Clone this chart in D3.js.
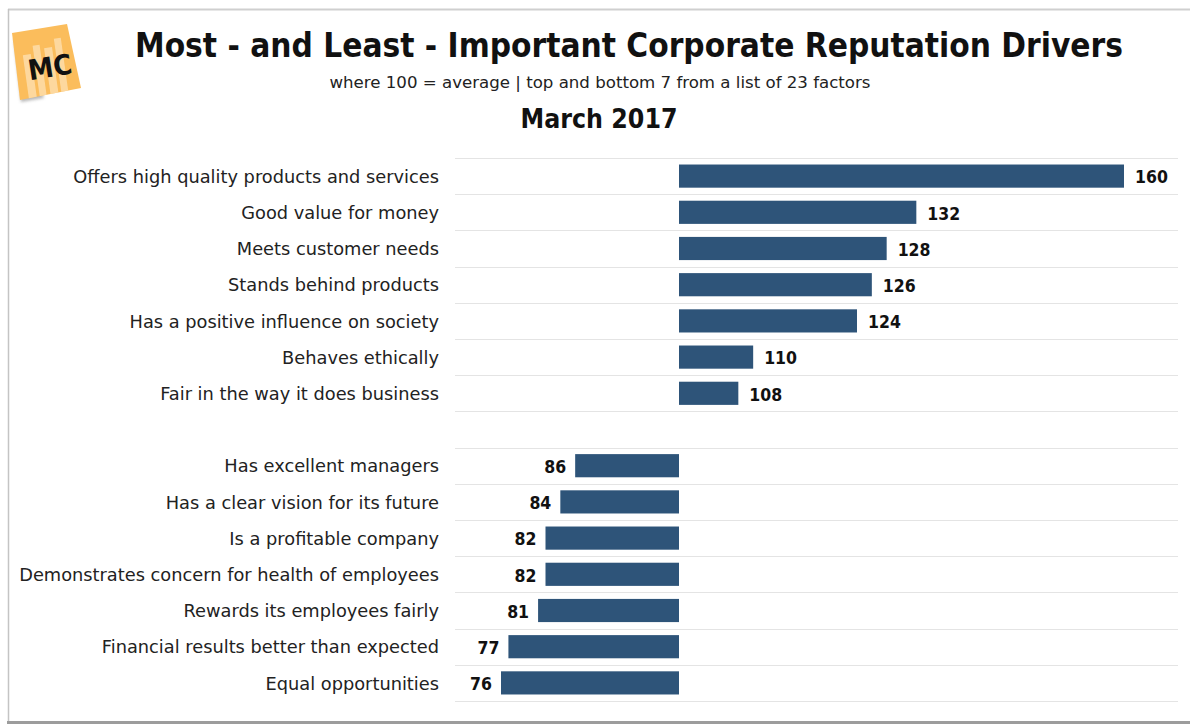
<!DOCTYPE html>
<html>
<head>
<meta charset="utf-8">
<script src="https://cdn.jsdelivr.net/npm/d3@7"></script>
<style>
  html, body { margin: 0; padding: 0; background: #fff; }
  svg { display: block; }
</style>
</head>
<body>
<svg id="chart" width="1190" height="727"></svg>
<script>
// Top drivers (index above 100 = average)
const topFactors = [
  "Offers high quality products and services",
  "Good value for money",
  "Meets customer needs",
  "Stands behind products",
  "Has a positive influence on society",
  "Behaves ethically",
  "Fair in the way it does business"
];
const topValues = [160, 132, 128, 126, 124, 110, 108];

// Bottom drivers (index below 100)
const bottomFactors = [
  "Has excellent managers",
  "Has a clear vision for its future",
  "Is a profitable company",
  "Demonstrates concern for health of employees",
  "Rewards its employees fairly",
  "Financial results better than expected",
  "Equal opportunities"
];
const bottomValues = [86, 84, 82, 82, 81, 77, 76];

const baselineValue = 100;
const titleText = "Most - and Least - Important Corporate Reputation Drivers";
const subtitleText = "where 100 = average | top and bottom 7 from a list of 23 factors";
const periodText = "March 2017";

// Rows: top group, an empty spacer slot, bottom group
const rows = [
  ...topFactors.map((c, i) => ({ key: "t" + i, label: c, value: topValues[i] })),
  { key: "gap", label: "", value: null },
  ...bottomFactors.map((c, i) => ({ key: "b" + i, label: c, value: bottomValues[i] }))
];

const svg = d3.select("#chart");
const BAR = "#2e5479";

// Frame
svg.append("line").attr("x1", 8).attr("x2", 1190).attr("y1", 9.5).attr("y2", 9.5)
  .attr("stroke", "#cfcfcf").attr("stroke-width", 2);
svg.append("line").attr("x1", 8.5).attr("x2", 8.5).attr("y1", 9).attr("y2", 722)
  .attr("stroke", "#c4c4c4").attr("stroke-width", 1.5);
svg.append("line").attr("x1", 7).attr("x2", 1190).attr("y1", 722.5).attr("y2", 722.5)
  .attr("stroke", "#9c9c9c").attr("stroke-width", 3);

// Logo: sticky note with "MC"
const defs = svg.append("defs");
defs.append("filter").attr("id", "soft").append("feGaussianBlur").attr("stdDeviation", 1.6);
const notePath = "M12,33 L67,24 L81,88 L20,100 Z";
const logo = svg.append("g").attr("class", "logo");
logo.append("path")
  .attr("d", "M14,40 L21,102 L44,98 L30,62 Z")
  .attr("fill", "#9a9a9a").attr("opacity", 0.7).attr("filter", "url(#soft)");
logo.append("path").attr("d", notePath).attr("fill", "#fbbd5c");
defs.append("clipPath").attr("id", "noteClip").append("path").attr("d", notePath);
const stripes = logo.append("g").attr("clip-path", "url(#noteClip)");
[[24, 52, 8], [35, 44, 7], [46, 48, 8], [57, 40, 7]].forEach(([x, y, w]) => {
  stripes.append("rect").attr("x", x).attr("y", y).attr("width", w).attr("height", 60)
    .attr("fill", "#fde1b4").attr("opacity", 0.75)
    .attr("transform", "rotate(-8 46 62)");
});
logo.append("text")
  .attr("x", 50).attr("y", 77)
  .attr("text-anchor", "middle")
  .attr("transform", "rotate(-9 50 68)")
  .attr("font-family", "DejaVu Sans")
  .attr("font-weight", "bold")
  .attr("font-size", 28)
  .attr("fill", "#111")
  .attr("textLength", 44).attr("lengthAdjust", "spacingAndGlyphs")
  .text("MC");

// Titles
svg.append("text")
  .attr("x", 629).attr("y", 57)
  .attr("text-anchor", "middle")
  .attr("font-family", "DejaVu Sans Condensed, DejaVu Sans")
  .attr("font-weight", "bold")
  .attr("font-size", 34)
  .attr("fill", "#111")
  .attr("textLength", 988).attr("lengthAdjust", "spacingAndGlyphs")
  .text(titleText);

svg.append("text")
  .attr("x", 600).attr("y", 88)
  .attr("text-anchor", "middle")
  .attr("font-family", "DejaVu Sans")
  .attr("font-size", 15)
  .attr("fill", "#222")
  .attr("textLength", 541).attr("lengthAdjust", "spacingAndGlyphs")
  .text(subtitleText);

svg.append("text")
  .attr("x", 599).attr("y", 128)
  .attr("text-anchor", "middle")
  .attr("font-family", "DejaVu Sans Condensed, DejaVu Sans")
  .attr("font-weight", "bold")
  .attr("font-size", 26)
  .attr("fill", "#111")
  .attr("textLength", 157).attr("lengthAdjust", "spacingAndGlyphs")
  .text(periodText);

// Scales
const x = d3.scaleLinear().domain([baselineValue, 160]).range([679, 1124]);
const y = d3.scaleBand()
  .domain(rows.map(d => d.key))
  .range([158, 701])
  .paddingInner(0.36)
  .paddingOuter(0.18);

const step = y.step();
const bandTop = k => y(k) - step * y.paddingInner() / 2;

// Gridlines at row boundaries
const boundaries = rows.map(d => bandTop(d.key)).concat([bandTop(rows[rows.length - 1].key) + step]);
svg.append("g").selectAll("line")
  .data(boundaries)
  .join("line")
  .attr("x1", 455).attr("x2", 1178)
  .attr("y1", d => Math.round(d) + 0.5).attr("y2", d => Math.round(d) + 0.5)
  .attr("stroke", "#e4e4e4").attr("stroke-width", 1);

// Category labels
const yAxis = d3.axisLeft(y).tickSize(0).tickPadding(0)
  .tickFormat(k => (rows.find(r => r.key === k) || {}).label || "");
const axisG = svg.append("g").attr("transform", "translate(439,1)").call(yAxis);
axisG.select(".domain").remove();
axisG.selectAll("text")
  .attr("font-family", "DejaVu Sans")
  .attr("font-size", 17.8)
  .attr("fill", "#222");

const data = rows.filter(d => d.value !== null);

// Bars diverging from the 100 baseline
svg.append("g").selectAll("rect")
  .data(data)
  .join("rect")
  .attr("x", d => Math.min(x(d.value), x(baselineValue)))
  .attr("y", d => y(d.key))
  .attr("width", d => Math.abs(x(d.value) - x(baselineValue)))
  .attr("height", y.bandwidth())
  .attr("fill", BAR);

// Value labels
svg.append("g").selectAll("text")
  .data(data)
  .join("text")
  .attr("x", d => d.value >= baselineValue ? x(d.value) + 11 : x(d.value) - 9)
  .attr("y", d => y(d.key) + y.bandwidth() / 2 + 1)
  .attr("dy", "0.36em")
  .attr("text-anchor", d => d.value >= baselineValue ? "start" : "end")
  .attr("font-family", "DejaVu Sans Condensed, DejaVu Sans")
  .attr("font-weight", "bold")
  .attr("font-size", 17.5)
  .attr("fill", "#111")
  .text(d => d.value);
</script>
</body>
</html>
